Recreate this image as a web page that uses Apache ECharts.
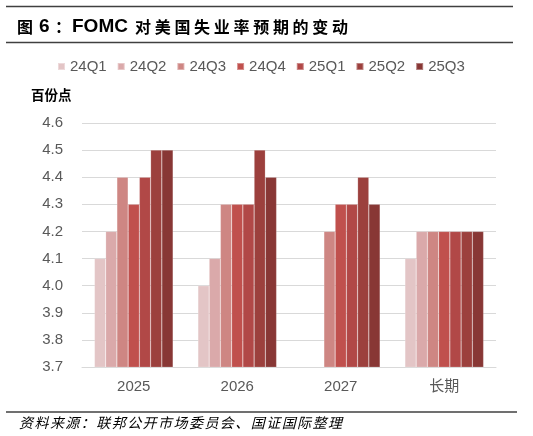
<!DOCTYPE html>
<html>
<head>
<meta charset="utf-8">
<script src="https://cdn.jsdelivr.net/npm/echarts@6/dist/echarts.min.js"></script>
<style>
html,body{margin:0;padding:0;background:#fff;}
#c{width:533px;height:436px;}
</style>
</head>
<body>
<div id="c"></div>
<script>
var categories = ['2025', '2026', '2027', '长期'];
var seriesNames = ['24Q1', '24Q2', '24Q3', '24Q4', '25Q1', '25Q2', '25Q3'];
var s24Q1 = [4.1, 4.0, null, 4.1];
var s24Q2 = [4.2, 4.1, null, 4.2];
var s24Q3 = [4.4, 4.3, 4.2, 4.2];
var s24Q4 = [4.3, 4.3, 4.3, 4.2];
var s25Q1 = [4.4, 4.3, 4.3, 4.2];
var s25Q2 = [4.5, 4.5, 4.4, 4.2];
var s25Q3 = [4.5, 4.4, 4.3, 4.2];
var yTicks = ['3.7', '3.8', '3.9', '4.0', '4.1', '4.2', '4.3', '4.4', '4.5', '4.6'];
var titleCJK = '对美国失业率预期的变动';
var sourceText = '资料来源：联邦公开市场委员会、国证国际整理';

var seriesData = [s24Q1, s24Q2, s24Q3, s24Q4, s25Q1, s25Q2, s25Q3];
var colors = ['#E3C5C6', '#DAA9AA', '#CE8683', '#C0504D', '#B14847', '#9C403D', '#883735'];

var chart = echarts.init(document.getElementById('c'), null, {renderer: 'canvas'});
var lat = '"Liberation Sans", Arial, "Noto Sans CJK SC", sans-serif';
var cjkF = '"Noto Sans CJK SC", sans-serif';

function spaced(str, style) {
  return str.split('').map(function (ch) { return '{' + style + '|' + ch + '}'; }).join('');
}

var titleRich = '{h|图}{n|6}{k|：}{f|FOMC}' + spaced(titleCJK, 'c');
var sourceRich = spaced(sourceText, 's');

var option = {
  animation: false,
  color: colors,
  textStyle: {fontFamily: lat},
  legend: {
    data: seriesNames,
    top: 54,
    left: 52,
    icon: 'rect',
    itemWidth: 7,
    itemHeight: 7,
    itemGap: 10,
    textStyle: {fontSize: 15, color: '#595959', fontFamily: lat}
  },
  grid: {left: 82, right: 37, top: 123, bottom: 69},
  xAxis: {
    type: 'category',
    data: categories,
    axisLine: {lineStyle: {color: '#D9D9D9', width: 1}},
    axisTick: {show: false},
    axisLabel: {color: '#595959', fontSize: 15, margin: 12, fontFamily: lat}
  },
  yAxis: {
    type: 'value',
    min: 3.7,
    max: 4.6,
    interval: 0.1,
    axisLine: {show: false},
    axisTick: {show: false},
    splitLine: {lineStyle: {color: '#D9D9D9', width: 1}},
    axisLabel: {
      color: '#595959', fontSize: 15, margin: 19, fontFamily: lat,
      formatter: function (v) { return v.toFixed(1); }
    }
  },
  series: seriesNames.map(function (n, i) {
    return {
      name: n,
      type: 'bar',
      data: seriesData[i],
      barGap: '0%',
      barCategoryGap: '24%',
      itemStyle: {color: colors[i], borderColor: 'rgba(255,255,255,0.35)', borderWidth: 0.5}
    };
  }),
  graphic: [
    {type: 'line', shape: {x1: 6, y1: 6.5, x2: 513, y2: 6.5}, style: {stroke: '#404040', lineWidth: 1.3}},
    {type: 'text', x: 17, y: 27, style: {
      text: titleRich, verticalAlign: 'middle', fill: '#000',
      rich: {
        h: {fontSize: 16, fontWeight: 'bold', fontFamily: cjkF, width: 22, fill: '#000'},
        n: {fontSize: 19, fontWeight: 'bold', fontFamily: lat, width: 16, fill: '#000'},
        k: {fontSize: 16, fontWeight: 'bold', fontFamily: cjkF, width: 17, fill: '#000'},
        f: {fontSize: 19, fontWeight: 'bold', fontFamily: lat, width: 63, fill: '#000'},
        c: {fontSize: 16, fontWeight: 'bold', fontFamily: cjkF, width: 19.7, fill: '#000'}
      }
    }},
    {type: 'line', shape: {x1: 6, y1: 42.5, x2: 513, y2: 42.5}, style: {stroke: '#404040', lineWidth: 1.3}},
    {type: 'text', x: 31, y: 95, style: {text: '百份点', verticalAlign: 'middle', fontSize: 13.5, fontWeight: 'bold', fill: '#000', fontFamily: cjkF}},
    {type: 'line', shape: {x1: 6, y1: 412, x2: 517, y2: 412}, style: {stroke: '#404040', lineWidth: 1.3}},
    {type: 'text', x: 19, y: 423, style: {
      text: sourceRich, verticalAlign: 'middle', fill: '#000',
      rich: {
        s: {fontSize: 14, fontStyle: 'italic', fontFamily: cjkF, width: 15.45, fill: '#000'}
      }
    }}
  ]
};
chart.setOption(option);
</script>
</body>
</html>
